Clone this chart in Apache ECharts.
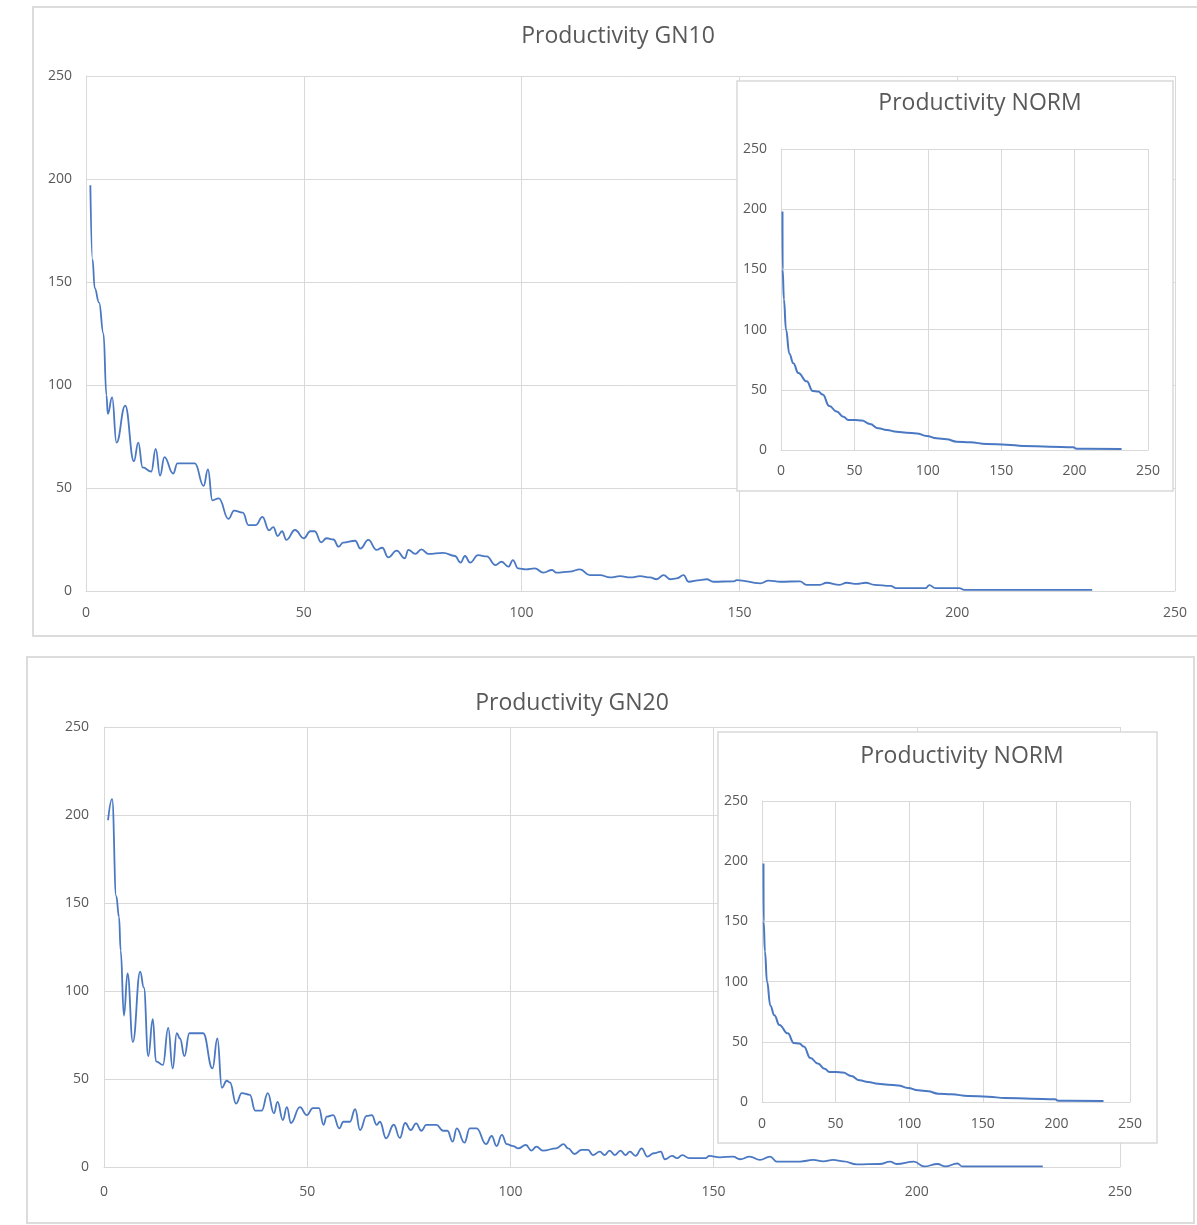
<!DOCTYPE html>
<html>
<head>
<meta charset="utf-8">
<script src="https://cdn.jsdelivr.net/npm/echarts@6/dist/echarts.min.js"></script>
<style>html,body{margin:0;padding:0;background:#fff;}#c{width:1197px;height:1225px;}</style>
</head>
<body>
<div id="c"></div>
<script>
// ---- data ----
const axisTicks = [0, 50, 100, 150, 200, 250];

const gn10X = [1,1.5,2,3,4,4.7,5,6,7,9,11,12,13,15,16,17,18,20,21,25,27,28,29,30.5,32.7,34,36,37.3,39,40.5,42,43,44,45,46,48,50,51.5,52.5,54,55.2,56.8,58,59,61.8,63,64.8,66.7,68,69.4,71.3,73.2,74,75.6,77,78.6,82,84.7,86,87,88.2,90,92,94,95.4,97,98,99.2,101,103,105,107,108,111,113.4,115.7,118,120.3,122.6,125,127.2,129.5,131,132.6,134.1,135.6,137.2,138.3,141,142.5,144,148.7,149.4,154.8,156.7,159.4,163.9,165.4,168.5,170,173,174.6,176.9,179,181,184.7,186,192.8,193.6,195,200.5,201.6,231];
const gn10Y = [197,161,147,140,125,95,86,94,72,90,63,72,60,58,69,56,65,57,62,62,51,59,44,45,35,39,38,32,32,36,29.5,31,26.7,29,24.8,29.6,25.6,29,29,23.6,25.6,25,21.5,23.5,24.4,20.6,24.8,20,21,16.3,19.6,15.9,20,18,20.2,18,18.5,17,13.8,17,13.8,17.4,16.8,12.6,14.2,11.8,15,11,10.5,11,8.9,10.2,8.9,9.4,10.5,7.7,7.7,6.6,7.2,6.6,7.2,6.6,5.7,7.7,5.7,6.1,7.7,4.5,5.3,5.7,4.5,4.7,5.3,3.7,5,4.5,4.7,3,3,4,3,4,3.5,4,3,2.5,1.4,1.4,2.9,1.4,1.4,0.5,0.5];

const gn20X = [1,2,3,3.7,4.1,4.9,5.8,7.1,8.9,9.8,10.9,12,12.8,14.5,15.8,16.9,17.9,18.7,19.8,21,24.4,26.7,27.9,29,30.2,31,32.5,33.9,35.9,37.2,38.8,40.3,41.8,42.7,44,45,46,48.2,49.9,51.4,52.9,54,54.8,56.4,57.9,58.9,60.5,61.8,63,64.6,65.9,67.1,67.9,69.4,71.3,72.8,74.1,75.5,76.8,78.1,79.3,81.8,83.4,84.5,85.8,86.8,88.7,90,91.7,94,95.4,96.6,97.9,99.1,100.7,101.9,103.8,105.2,106.4,108,111.3,113.1,114.2,115.8,117.5,119.1,120.3,122,123.2,124.4,125.7,127.1,128.3,129.4,130.8,132.3,133.7,135.3,137,138,139.8,141,142.3,144,148.1,148.9,151.5,154.8,156.5,158.9,161.4,163.9,165.5,171.3,174.5,177,179.4,182,185.2,190.9,193.4,195,199.3,201.8,205.1,207,210,211.2,231];
const gn20Y = [197,209,154,142,123,86,110,71,111,102,63,84,60,58,79,56,76,73,63,76,76,56,73,45,49,48,36,42,41,32,32,42,30.5,37,26.7,34,25,34,29.5,33.5,33.5,24,28.6,29.5,22,25.7,25.7,32.8,21,29,29.5,24,25.7,16.3,24,16.5,25,21,24.8,20.6,23.9,23.9,20.6,20.6,14.4,22,13.8,22,22,13,17.6,11.9,18.2,13,11.9,10.6,12.5,9.3,11.6,9.3,10.6,13,10.6,7.4,9.7,9.7,6.8,8.7,6.8,9.3,6.8,9.3,6.8,8.7,6.3,10.6,5.9,7.8,8.7,4.4,6.3,5,6.8,5,5,6.3,5.5,5.9,4.4,5.9,4,5.9,3.1,3.1,4,3.2,4,3.2,1.5,1.7,3,1.7,3,0.3,1.7,0.3,2,0.3,0.3];

const normX = [1,1.1,2,3.4,5.7,8.4,11.8,17.5,21.6,25.4,28.4,32.9,37.9,42.5,45.9,50.4,55,60.6,66.3,72,78.8,85.6,92.4,99.2,106,112.8,119.7,128.7,140,153.7,165,183,199,201.4,232];
const normY = [198,150,125,100,80,72,64,57,49,48.5,46,36.5,32,27.7,25,25,24.4,21.6,18,16.6,15.2,14.4,13.8,11.6,9.7,8.9,6.9,6.4,5,4.4,3.3,2.8,2.2,1.1,0.9];

const titles = ['Productivity GN10', 'Productivity NORM', 'Productivity GN20', 'Productivity NORM'];

// ---- build option ----
const pairs = (xs, ys) => xs.map((x, i) => [x, ys[i]]);
const BLUE = '#4a78c2';
const GRID = '#d9d9d9';
const LABEL = '#595959';
const FONT = 'Open Sans';

const grids = [
  {left: 86, top: 76, width: 1089, height: 515},
  {left: 781, top: 149, width: 367, height: 301},
  {left: 104, top: 727, width: 1016, height: 440},
  {left: 762, top: 801, width: 368, height: 301}
];
const zs = [0, 20, 0, 20];
const xMargins = [15, 14, 18, 15];
const yMargins = [14, 14, 15, 14];

function axis(i, isX) {
  return {
    type: 'value', gridIndex: i, min: axisTicks[0], max: axisTicks[axisTicks.length - 1], interval: 50,
    z: zs[i],
    axisLine: {show: true, lineStyle: {color: GRID, width: 1}},
    axisTick: {show: false},
    splitLine: {show: true, showMinLine: true, showMaxLine: true, lineStyle: {color: GRID, width: 1}},
    axisLabel: {color: LABEL, fontFamily: FONT, fontSize: 14, margin: isX ? xMargins[i] : yMargins[i]}
  };
}

const series = [
  {data: pairs(gn10X, gn10Y), g: 0, w: 1.8},
  {data: pairs(normX, normY), g: 1, w: 2},
  {data: pairs(gn20X, gn20Y), g: 2, w: 1.8},
  {data: pairs(normX, normY), g: 3, w: 2}
].map(s => ({
  type: 'line', xAxisIndex: s.g, yAxisIndex: s.g, data: s.data,
  showSymbol: false, smooth: 0.45, smoothMonotone: 'x', z: s.g % 2 ? 30 : 2,
  lineStyle: {color: BLUE, width: s.w}, silent: true
}));

const titleDefs = [
  {text: titles[0], x: 618, y: 25, size: 23, z: 6},
  {text: titles[1], x: 980, y: 92, size: 23, z: 40},
  {text: titles[2], x: 572, y: 692, size: 23, z: 6},
  {text: titles[3], x: 962, y: 745, size: 23, z: 40}
];

const option = {
  animation: false,
  backgroundColor: '#ffffff',
  title: titleDefs.map(t => ({
    text: t.text, left: t.x, top: t.y, textAlign: 'center', padding: 0, z: t.z,
    textStyle: {color: LABEL, fontFamily: FONT, fontSize: t.size, fontWeight: 'normal'}
  })),
  grid: grids,
  xAxis: grids.map((g, i) => axis(i, true)),
  yAxis: grids.map((g, i) => axis(i, false)),
  series: series,
  graphic: [
    {type: 'rect', z: -1, shape: {x: 33, y: 7, width: 1200, height: 629}, style: {fill: 'transparent', stroke: '#dcdcdc', lineWidth: 2}},
    {type: 'rect', z: 10, shape: {x: 737, y: 81, width: 436, height: 410}, style: {fill: '#ffffff', stroke: '#d9d9d9', lineWidth: 1.5}},
    {type: 'rect', z: -1, shape: {x: 27, y: 657, width: 1167, height: 566}, style: {fill: 'transparent', stroke: '#dcdcdc', lineWidth: 2}},
    {type: 'rect', z: 10, shape: {x: 718, y: 732, width: 439, height: 411}, style: {fill: '#ffffff', stroke: '#d9d9d9', lineWidth: 1.5}}
  ]
};

const chart = echarts.init(document.getElementById('c'), null, {renderer: 'canvas'});
chart.setOption(option);
</script>
</body>
</html>
